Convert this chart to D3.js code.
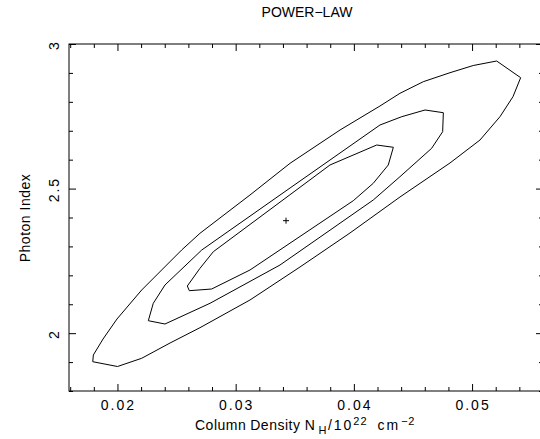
<!DOCTYPE html>
<html>
<head>
<meta charset="utf-8">
<script src="https://cdn.jsdelivr.net/npm/d3@7"></script>
<style>
  html, body { margin: 0; padding: 0; background: #fff; }
  svg { display: block; overflow: hidden; }
  text { font-family: "Liberation Sans", Arial, sans-serif; fill: #000; }
</style>
</head>
<body>
<svg id="chart" width="540" height="439"></svg>
<script>
// ---- data ----
const title = "POWER\u2212LAW";
const xLabelWords = ["Column", "Density"];
const yLabel = "Photon Index";
const xDomain = [0.0159, 0.056];
const yDomain = [1.8, 3.0];
const xMajorTicks = [0.02, 0.03, 0.04, 0.05];
const xTickLabels = ["0.02", "0.03", "0.04", "0.05"];
const yMajorTicks = [2, 2.5, 3];
const yTickLabels = ["2", "2.5", "3"];
const bestFit = [0.03426, 2.389];

// contour levels (outer, middle, inner) as [NH, index]
const contourOuter = [
  [0.01796, 1.9245], [0.01791, 1.9013], [0.02000, 1.8847], [0.02205, 1.9131],
  [0.02445, 1.9660], [0.02698, 2.0189], [0.03121, 2.1147], [0.03544, 2.2288],
  [0.03967, 2.3464], [0.04390, 2.4709], [0.04813, 2.5885], [0.05067, 2.6680],
  [0.05236, 2.7486], [0.05346, 2.8178], [0.05411, 2.8835], [0.05208, 2.9412],
  [0.05010, 2.9256], [0.04813, 2.9007], [0.04587, 2.8696], [0.04390, 2.8295],
  [0.04221, 2.7856], [0.03883, 2.7026], [0.03460, 2.5874], [0.03121, 2.4778],
  [0.02698, 2.3454], [0.02543, 2.2876], [0.02205, 2.1493], [0.01996, 2.0490],
  [0.01878, 1.9798]
];
const contourMiddle = [
  [0.02261, 2.0431], [0.02402, 2.0317], [0.02783, 2.1033], [0.03375, 2.2357],
  [0.04164, 2.4605], [0.04390, 2.5411], [0.04658, 2.6393], [0.04751, 2.6967],
  [0.04757, 2.7624], [0.04602, 2.7718], [0.04405, 2.7486], [0.04221, 2.7199],
  [0.03460, 2.5020], [0.02713, 2.2876], [0.02402, 2.1666], [0.02303, 2.1033]
];
const contourInner = [
  [0.02591, 2.1631], [0.02608, 2.1469], [0.02797, 2.1527], [0.03121, 2.2184],
  [0.03995, 2.4581], [0.04164, 2.5183], [0.04291, 2.5816], [0.04334, 2.6428],
  [0.04193, 2.6507], [0.03798, 2.5816], [0.02811, 2.2817], [0.02698, 2.2243]
];
const contours = [contourOuter, contourMiddle, contourInner];

// ---- layout ----
const svg = d3.select("#chart");
const L = 69, T = 44, R = 543, B = 391;
const x = d3.scaleLinear().domain(xDomain).range([L, R]);
const y = d3.scaleLinear().domain(yDomain).range([B, T]);

const xMinor = d3.range(0.016, 0.0561, 0.002).filter(v => !xMajorTicks.some(m => Math.abs(m - v) < 1e-9));
const yMinor = d3.range(1.8, 3.001, 0.1).filter(v => !yMajorTicks.some(m => Math.abs(m - v) < 1e-9));

function axisStyle(g) {
  g.select(".domain").remove();
  g.selectAll(".tick line").attr("stroke", "#000").attr("stroke-width", 1);
  g.selectAll(".tick text").remove();
}

// bottom
svg.append("g").attr("transform", `translate(0,${B})`)
  .call(d3.axisBottom(x).tickValues(xMajorTicks).tickSize(-7)).call(axisStyle);
svg.append("g").attr("transform", `translate(0,${B})`)
  .call(d3.axisBottom(x).tickValues(xMinor).tickSize(-4)).call(axisStyle);
// top
svg.append("g").attr("transform", `translate(0,${T})`)
  .call(d3.axisTop(x).tickValues(xMajorTicks).tickSize(-7)).call(axisStyle);
svg.append("g").attr("transform", `translate(0,${T})`)
  .call(d3.axisTop(x).tickValues(xMinor).tickSize(-4)).call(axisStyle);
// left
svg.append("g").attr("transform", `translate(${L},0)`)
  .call(d3.axisLeft(y).tickValues(yMajorTicks).tickSize(-7)).call(axisStyle);
svg.append("g").attr("transform", `translate(${L},0)`)
  .call(d3.axisLeft(y).tickValues(yMinor).tickSize(-4)).call(axisStyle);
// right
svg.append("g").attr("transform", `translate(${R},0)`)
  .call(d3.axisRight(y).tickValues(yMajorTicks).tickSize(-7)).call(axisStyle);
svg.append("g").attr("transform", `translate(${R},0)`)
  .call(d3.axisRight(y).tickValues(yMinor).tickSize(-4)).call(axisStyle);

// frame
svg.append("rect").attr("x", L).attr("y", T).attr("width", R - L).attr("height", B - T)
  .attr("fill", "none").attr("stroke", "#000").attr("stroke-width", 1);

// tick labels
svg.append("g").selectAll("text").data(xMajorTicks).join("text")
  .attr("x", d => x(d) + 1).attr("y", 410)
  .attr("text-anchor", "middle").attr("font-size", 14).attr("letter-spacing", 2)
  .text((d, i) => xTickLabels[i]);
svg.append("g").selectAll("text").data(yMajorTicks).join("text")
  .attr("transform", d => `translate(59,${y(d) + 1}) rotate(-90)`)
  .attr("text-anchor", "middle").attr("font-size", 14).attr("letter-spacing", 2)
  .text((d, i) => yTickLabels[i]);

// title
svg.append("text").attr("x", 307).attr("y", 17).attr("text-anchor", "middle")
  .attr("font-size", 14).text(title);

// y label
svg.append("text").attr("transform", "translate(30,218) rotate(-90)")
  .attr("text-anchor", "middle").attr("font-size", 14).attr("letter-spacing", 0.5).text(yLabel);

// x label with sub/superscripts
const xl = svg.append("text").attr("x", 195).attr("y", 430).attr("text-anchor", "start")
  .attr("font-size", 14).attr("letter-spacing", 0.5);
xl.append("tspan").text(xLabelWords[0]);
xl.append("tspan").attr("dx", 4).text(xLabelWords[1] + " N");
xl.append("tspan").attr("font-size", 11).attr("dx", 3).attr("dy", 4).text("H");
xl.append("tspan").attr("dx", 1).attr("dy", -4).attr("letter-spacing", 2).text("/10");
xl.append("tspan").attr("font-size", 11).attr("dx", 0).attr("dy", -5).attr("letter-spacing", 1).text("22");
xl.append("tspan").attr("dx", 10).attr("dy", 5).attr("letter-spacing", 2).text("cm");
xl.append("tspan").attr("font-size", 11).attr("dx", 1).attr("dy", -5).text("\u22122");

// contours
const line = d3.line().x(d => x(d[0])).y(d => y(d[1])).curve(d3.curveLinearClosed);
svg.append("g").selectAll("path").data(contours).join("path")
  .attr("d", line).attr("fill", "none").attr("stroke", "#000").attr("stroke-width", 1);

// best fit marker
const px = x(bestFit[0]), py = y(bestFit[1]);
svg.append("path")
  .attr("d", `M${px - 3},${py}H${px + 3}M${px},${py - 3}V${py + 3}`)
  .attr("stroke", "#000").attr("stroke-width", 1);
</script>
</body>
</html>
